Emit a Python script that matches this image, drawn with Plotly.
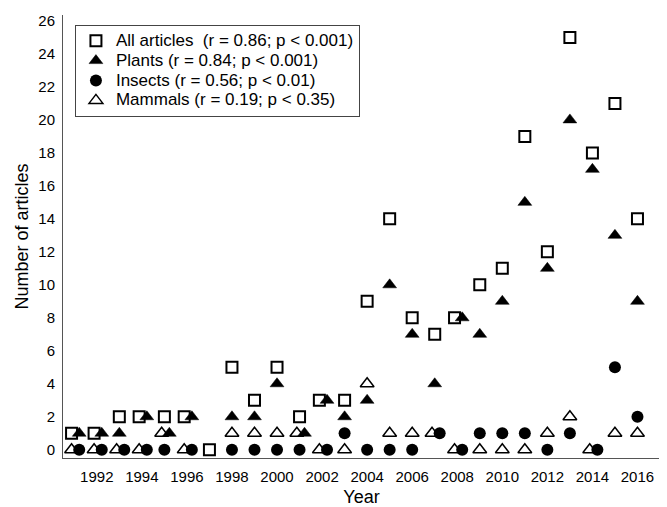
import plotly.graph_objects as go

years = list(range(1991, 2017))
all_articles = [1, 1, 2, 2, 2, 2, 0, 5, 3, 5, 2, 3, 3, 9, 14, 8, 7, 8, 10, 11, 19, 12, 25, 18, 21, 14]
plants =       [1, 1, 1, 2, 1, 2, None, 2, 2, 4, 1, 3, 2, 3, 10, 7, 4, 8, 7, 9, 15, 11, 20, 17, 13, 9]
insects =      [0, 0, 0, 0, 0, 0, None, 0, 0, 0, 0, 0, 1, 0, 0, 0, 1, 0, 1, 1, 1, 0, 1, 0, 5, 2]
mammals =      [0, 0, 0, 0, 1, 0, None, 1, 1, 1, 1, 0, 0, 4, 1, 1, 1, 0, 0, 0, 0, 1, 2, 0, 1, 1]

labels = {
    "all": "All articles\u00a0 (r = 0.86; p &lt; 0.001)",
    "plants": "Plants (r = 0.84; p &lt; 0.001)",
    "insects": "Insects (r = 0.56; p &lt; 0.01)",
    "mammals": "Mammals (r = 0.19; p &lt; 0.35)",
}

# draw order (later drawn on top)
order = [
    ("all", all_articles, dict(symbol="square-open", size=11, color="black", line=dict(width=2, color="black")), 1),
    ("mammals", mammals, dict(symbol="triangle-up-open", size=12, color="black", line=dict(width=1.5, color="black")), 4),
    ("plants", plants, dict(symbol="triangle-up", size=12, color="black", line=dict(width=0.5, color="black")), 2),
    ("insects", insects, dict(symbol="circle", size=12, color="black", line=dict(width=0)), 3),
]

# dodge coinciding points horizontally
xs = {k: [float(y) for y in years] for k, _, _, _ in order}
drawn = []
for key, vals, _, _ in order:
    for i, v in enumerate(vals):
        if v is None:
            continue
        for pk, pvals in drawn:
            if pvals[i] == v:
                xs[pk][i] = years[i] - 0.12
                xs[key][i] = years[i] + 0.22
    drawn.append((key, vals))

fam = "Liberation Sans, Arial, sans-serif"
fig = go.Figure()
for key, vals, mk, rank in order:
    fig.add_trace(go.Scatter(
        x=xs[key], y=vals, mode="markers",
        name='<span style="font-size:17px">' + labels[key] + "</span>",
        marker=mk, legendrank=rank, cliponaxis=False,
    ))

tickfont = dict(family=fam, size=15, color="black")
titlefont = dict(family=fam, size=18, color="black")
legfont = dict(family=fam, size=13, color="black")
# page body has an 8px default margin; compensate so the chart sits at the window origin
fig.update_layout(
    width=659, height=499,
    margin=dict(l=55, r=7, t=7, b=49, autoexpand=False),
    paper_bgcolor="white", plot_bgcolor="white",
    font=tickfont,
    showlegend=True,
    legend=dict(
        x=0.02, y=0.978, xanchor="left", yanchor="top",
        bordercolor="#444", borderwidth=1, bgcolor="white",
        font=legfont, tracegroupgap=0, itemsizing="trace",
    ),
    xaxis=dict(
        range=[1990.5, 2017], tickmode="array",
        tickvals=list(range(1992, 2017, 2)),
        showgrid=False, zeroline=False, showline=True, linecolor="#555", linewidth=1,
        ticks="", ticklabelstandoff=5, automargin=False, tickfont=tickfont,
        title=dict(text="Year", standoff=12, font=titlefont),
    ),
    yaxis=dict(
        range=[-0.5, 26.36], tickmode="array",
        tickvals=list(range(0, 27, 2)),
        showgrid=False, zeroline=False, showline=True, linecolor="#555", linewidth=1,
        ticks="", ticklabelstandoff=4, automargin=False, tickfont=tickfont,
        title=dict(text="Number of articles", standoff=5, font=titlefont),
    ),
)
fig.write_html("out.html")
